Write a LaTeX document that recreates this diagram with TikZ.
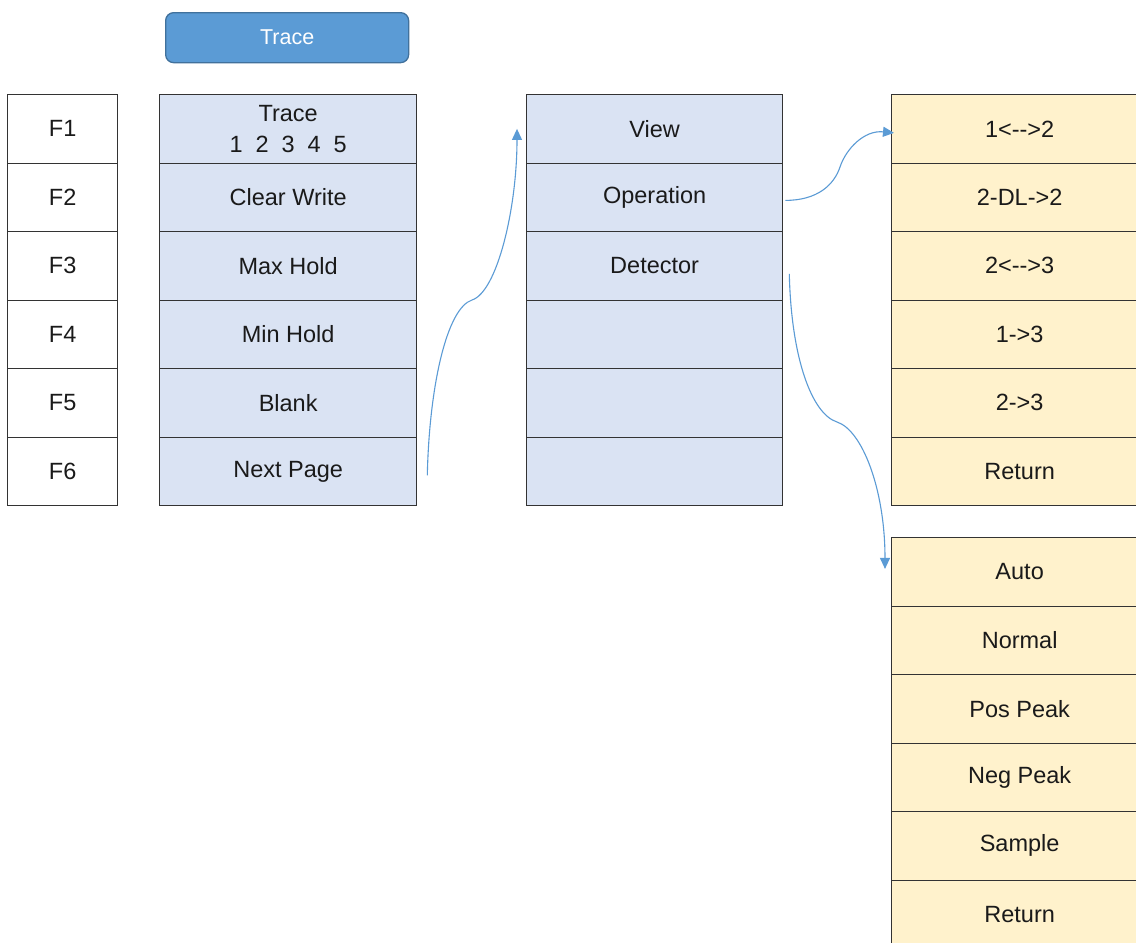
\documentclass[tikz,border=0pt]{standalone}
\usepackage{fontspec}
\setmainfont{Liberation Sans}
\usetikzlibrary{arrows.meta,calc}
\definecolor{cellblue}{HTML}{DAE3F3}
\definecolor{cellorange}{HTML}{FFF2CC}
\definecolor{btnblue}{HTML}{5B9BD5}
\definecolor{btnborder}{HTML}{41719C}
\definecolor{arrowblue}{HTML}{5B9BD5}
\definecolor{linegray}{HTML}{333333}
\definecolor{txt}{HTML}{1A1A1A}
\begin{document}
\begin{tikzpicture}[x=1pt,y=-1pt,
  cell/.style={draw=linegray, line width=1.3pt, minimum height=68.5pt, inner sep=0pt,
    font=\fontsize{23.5}{31}\selectfont, text=txt, align=center, anchor=north west},
  fcell/.style={cell, fill=white, minimum width=110pt},
  bcell/.style={cell, fill=cellblue, minimum width=257pt},
  vcell/.style={cell, fill=cellblue, minimum width=256pt},
  ocell/.style={cell, fill=cellorange, minimum width=256pt},
  link/.style={draw=arrowblue, line width=1.1pt, -{Triangle[length=11pt,width=10pt]}, arrowblue}
]
\useasboundingbox (0,0) rectangle (1136,943);
\clip (0,0) rectangle (1136,943);
\fill[white] (0,0) rectangle (1136,943);

% button
\node[draw=btnborder, fill=btnblue, line width=1.3pt, rounded corners=8pt, minimum width=243pt,
  minimum height=50pt, text=white, font=\fontsize{21.5}{26}\selectfont, anchor=north west, inner sep=0pt]
  (btn) at (165,12) {Trace};

% F column
\node[fcell] (f1) at (7,94) {F1};
\node[fcell] (f2) at (7,162.5) {F2};
\node[fcell] (f3) at (7,231) {F3};
\node[fcell] (f4) at (7,299.5) {F4};
\node[fcell] (f5) at (7,368) {F5};
\node[fcell] (f6) at (7,436.5) {F6};

% Trace column
\node[bcell] (t1) at (159,94) {Trace\\1\hspace{0.55em}2\hspace{0.55em}3\hspace{0.55em}4\hspace{0.55em}5};
\node[bcell] (t2) at (159,162.5) {Clear Write};
\node[bcell] (t3) at (159,231) {Max Hold};
\node[bcell] (t4) at (159,299.5) {Min Hold};
\node[bcell] (t5) at (159,368) {Blank};
\node[bcell] (t6) at (159,436.5) {Next Page};

% View column
\node[vcell] (v1) at (526,94) {View};
\node[vcell] (v2) at (526,162.5) {Operation};
\node[vcell] (v3) at (526,231) {Detector};
\node[vcell] (v4) at (526,299.5) {};
\node[vcell] (v5) at (526,368) {};
\node[vcell] (v6) at (526,436.5) {};

% Operation column
\node[ocell] (o1) at (891,94) {1<-{}->2};
\node[ocell] (o2) at (891,162.5) {2-DL->2};
\node[ocell] (o3) at (891,231) {2<-{}->3};
\node[ocell] (o4) at (891,299.5) {1->3};
\node[ocell] (o5) at (891,368) {2->3};
\node[ocell] (o6) at (891,436.5) {Return};

% Detector column
\node[ocell] (d1) at (891,537) {Auto};
\node[ocell] (d2) at (891,605.5) {Normal};
\node[ocell] (d3) at (891,674) {Pos Peak};
\node[ocell] (d4) at (891,742.5) {Neg Peak};
\node[ocell] (d5) at (891,811) {Sample};
\node[ocell] (d6) at (891,879.5) {Return};

% connectors
\coordinate (a1s) at ($(t6.east)+(10,4)$);
\coordinate (a1m) at (472,300);
\coordinate (a1e) at ($(v1.west)+(-9,0)$);
\draw[link] (a1s) .. controls +(2,-90) and +(-25,8) .. (a1m)
  .. controls +(25,-8) and +(0,80) .. (a1e);

\coordinate (a2s) at ($(v2.east)+(2,3)$);
\coordinate (a2m) at (840,167);
\coordinate (a2e) at ($(o1.west)+(3,4)$);
\draw[link] (a2s) .. controls +(32,0) and +(-6,18) .. (a2m)
  .. controls +(6,-18) and +(-30,-3) .. (a2e);

\coordinate (a3s) at ($(v3.east)+(6,8)$);
\coordinate (a3m) at (837,422);
\coordinate (a3e) at ($(d1.west)+(-6,-3)$);
\draw[link] (a3s) .. controls +(2,85) and +(-25,-8) .. (a3m)
  .. controls +(25,8) and +(0,-80) .. (a3e);
\end{tikzpicture}
\end{document}
